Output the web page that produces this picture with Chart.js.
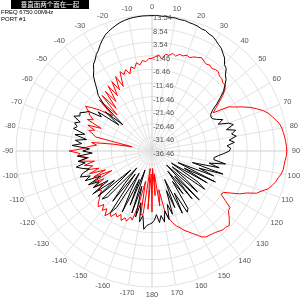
<!DOCTYPE html>
<html>
<head>
<meta charset="utf-8">
<script src="https://cdn.jsdelivr.net/npm/chart.js@4/dist/chart.umd.min.js"></script>
<style>
  html, body { margin: 0; padding: 0; background: #fff; }
  #wrap { position: relative; width: 303px; height: 303px; }
  #c { position: absolute; left: 0; top: 0; }
  #title { position: absolute; left: 11px; top: 0; width: 78px; height: 9px; background: #000; color: #fff;
           font: 6.5px "Noto Sans CJK SC"; line-height: 9px; text-align: center; }
  .info { position: absolute; left: 1px; font: 6px "Liberation Sans", Arial; color: #000; }
</style>
</head>
<body>
<div id="wrap">
  <canvas id="c" width="303" height="303"></canvas>
  <div id="title">垂直面两个面在一起</div>
  <div class="info" style="top:9px">FREQ 6750.00MHz</div>
  <div class="info" style="top:16px">PORT #1</div>
</div>
<script>
// angle of each sample, degrees clockwise from top (2 degree steps)
const angles = Array.from({length: 180}, (_, i) => i * 2);

// radial ticks (dB) and angle labels
const radialTicks = [-36.46, -31.46, -26.46, -21.46, -16.46, -11.46, -6.46, -1.46, 3.54, 8.54, 13.54];
const angleTicks = [0, 10, 20, 30, 40, 50, 60, 70, 80, 90, 100, 110, 120, 130, 140, 150, 160, 170, 180,
  -170, -160, -150, -140, -130, -120, -110, -100, -90, -80, -70, -60, -50, -40, -30, -20, -10];

// black trace, 0..358 deg
const blackDb = [
  13.3, 13.4, 13.2, 13.3, 13.1, 13.2, 12.9, 13.0, 12.7, 12.6,   // 0-18
  12.4, 12.0, 12.0, 11.4, 11.2, 10.5, 9.7, 9.1, 7.9, 6.9,        // 20-38
  5.0, 4.3, 2.4, 1.4, -0.4, -2.1, -4.6, -7.0, -9.6, -11.0,       // 40-58
  -11.4, -11.2, -10.0, -8.0, -10.2, -6.5, -5.0, -8.0, -4.8, -6.5, // 60-78
  -5.0, -7.8, -6.0, -8.8, -7.5, -8.0, -10.0, -12.0, -13.5, -13.5, // 80-98
  -9.0, -15.0, -11.0, -21.0, -9.0, -18.0, -12.0, -26.0, -10.5, -23.0, // 100-118
  -13.0, -28.0, -16.0, -12.5, -27.0, -20.0, -14.0, -29.0, -11.5, -24.0, // 120-138
  -13.5, -27.0, -17.0, -23.0, -11.5, -10.5, -19.0, -11.0, -25.0, -14.0, // 140-158
  -21.0, -12.0, -16.0, -10.5, -14.0, -10.0, -12.5, -10.0, -13.0, -11.0, // 160-178
  -10.0, -9.5, -9.0, -7.5, -12.5, -10.0, -17.0, -11.5, -23.0, -12.5,    // 180-198
  -29.0, -15.0, -25.0, -11.5, -20.0, -27.0, -12.0, -9.0, -26.0, -13.0,  // 200-218
  -21.0, -28.0, -13.0, -11.0, -26.0, -10.5, -19.0, -9.5, -17.0, -11.0,  // 220-238
  -14.0, -10.0, -15.5, -9.5, -12.0, -8.5, -9.5, -12.5, -10.0, -8.0,     // 240-258
  -11.5, -9.0, -12.5, -9.0, -14.5, -11.0, -13.5, -7.0, -10.5, -8.0,     // 260-278
  -12.0, -7.5, -11.0, -6.5, -7.5, -6.2, -8.0, -5.0, -7.0, -6.5,         // 280-298
  -8.0, -9.0, -14.0, -12.0, -21.0, -14.0, -22.0, -12.0, -8.0, -6.3,     // 300-318
  -4.0, -1.5, 0.0, 2.0, 3.0, 4.5, 5.5, 7.0, 8.3, 9.5,                   // 320-338
  10.3, 11.0, 11.6, 12.2, 12.6, 12.9, 13.1, 13.2, 13.3, 13.3            // 340-358
];

// red trace, 0..358 deg
const redDb = [
  -2.4, -1.8, -1.0, -2.5, -0.5, -0.8, 0.2, -0.5, 0.5, 0.3,        // 0-18
  1.0, 0.6, 1.4, 1.8, 2.4, 1.7, 1.2, 1.6, 1.0, 1.5,               // 20-38
  1.5, 0.6, 0.5, -0.3, -0.2, -1.5, -3.5, -6.0, -8.0, -10.0,       // 40-58
  -4.0, -2.0, 0.5, 3.0, 5.0, 7.0, 8.5, 9.5, 10.5, 11.5,           // 60-78
  12.0, 12.3, 12.6, 12.8, 13.0, 13.1, 13.0, 12.6, 12.4, 12.3,     // 80-98
  11.8, 11.0, 10.4, 9.5, 8.5, 6.5, 5.0, 1.5, -0.5, -3.5,          // 100-118
  -6.0, -6.5, -4.0, -1.0, -0.8, 0.5, 1.8, 3.0, 2.5, 2.5,          // 120-138
  2.0, 1.5, 1.2, 1.0, 0.8, 0.0, -1.5, -2.8, -4.0, -5.0,           // 140-158
  -6.5, -7.5, -9.0, -11.0, -14.0, -22.0, -16.0, -28.0, -20.0, -30.0, // 160-178
  -14.0, -28.0, -15.0, -30.0, -13.0, -12.5, -25.0, -16.0, -10.0, -11.0, // 180-198
  -9.0, -10.0, -8.5, -10.5, -9.0, -10.0, -8.0, -9.0, -7.0, -9.5,  // 200-218
  -8.0, -10.0, -8.0, -9.0, -10.5, -11.5, -13.0, -12.0, -14.5, -11.5, // 220-238
  -16.0, -12.0, -20.0, -13.0, -18.0, -12.0, -16.0, -11.5, -14.0, -11.0, // 240-258
  -15.0, -9.5, -13.0, -9.0, -10.0, -6.0, -11.0, -13.0, -16.0, -14.0,   // 260-278
  -22.0, -29.0, -15.0, -14.0, -12.0, -14.0, -11.0, -16.0, -10.0, -12.0, // 280-298
  -10.0, -9.0, -7.0, -9.5, -12.0, -15.0, -17.0, -9.5, -18.0, -9.0,     // 300-318
  -16.0, -8.5, -14.0, -7.5, -12.5, -7.0, -11.0, -6.0, -10.5, -5.0,     // 320-338
  -6.5, -5.0, -7.0, -4.5, -5.5, -3.5, -4.5, -3.0, -3.5, -2.5           // 340-358
];

const labelFont = '7.5px "Liberation Sans", Arial, sans-serif';

// draws dB values next to the vertical axis and the angle numbers round the edge
const polarLabels = {
  id: 'polarLabels',
  afterDraw(chart) {
    const s = chart.scales.r;
    const ctx = chart.ctx;
    ctx.save();
    ctx.font = labelFont;
    ctx.fillStyle = '#555';
    ctx.textAlign = 'left';
    ctx.textBaseline = 'middle';
    radialTicks.forEach(v => {
      const d = s.getDistanceFromCenterForValue(v);
      ctx.fillText(v.toFixed(2), s.xCenter + 1, s.yCenter - d + 3);
    });
    ctx.textAlign = 'center';
    angleTicks.forEach(a => {
      const idx = ((a + 360) % 360) / 2;
      const p = s.getPointPosition(idx, s.drawingArea + 8);
      ctx.fillText(String(a), p.x, p.y);
    });
    ctx.restore();
  }
};

new Chart(document.getElementById('c'), {
  type: 'radar',
  data: {
    labels: angles,
    datasets: [
      { label: 'black', data: blackDb, borderColor: '#000', borderWidth: 1, pointRadius: 0, fill: false, tension: 0 },
      { label: 'red', data: redDb, borderColor: '#ff0000', borderWidth: 1, pointRadius: 0, fill: false, tension: 0 }
    ]
  },
  options: {
    responsive: false,
    animation: false,
    devicePixelRatio: 1,
    layout: { padding: { left: 16, right: 15, top: 15, bottom: 16 } },
    plugins: { legend: { display: false }, tooltip: { enabled: false } },
    scales: {
      r: {
        min: -36.46,
        max: 13.54,
        afterBuildTicks: (scale) => { scale.ticks = radialTicks.map(v => ({ value: v })); },
        ticks: { display: false },
        pointLabels: { display: false },
        grid: { circular: true, color: '#e2e2e2', lineWidth: 1 },
        angleLines: {
          color: (c) => (c.index % 45 === 0 ? '#d0d0d0' : (c.index % 5 === 0 ? '#e2e2e2' : 'rgba(0,0,0,0)')),
          lineWidth: (c) => (c.index % 5 === 0 ? 1 : 0)
        }
      }
    }
  },
  plugins: [polarLabels]
});
</script>
</body>
</html>
